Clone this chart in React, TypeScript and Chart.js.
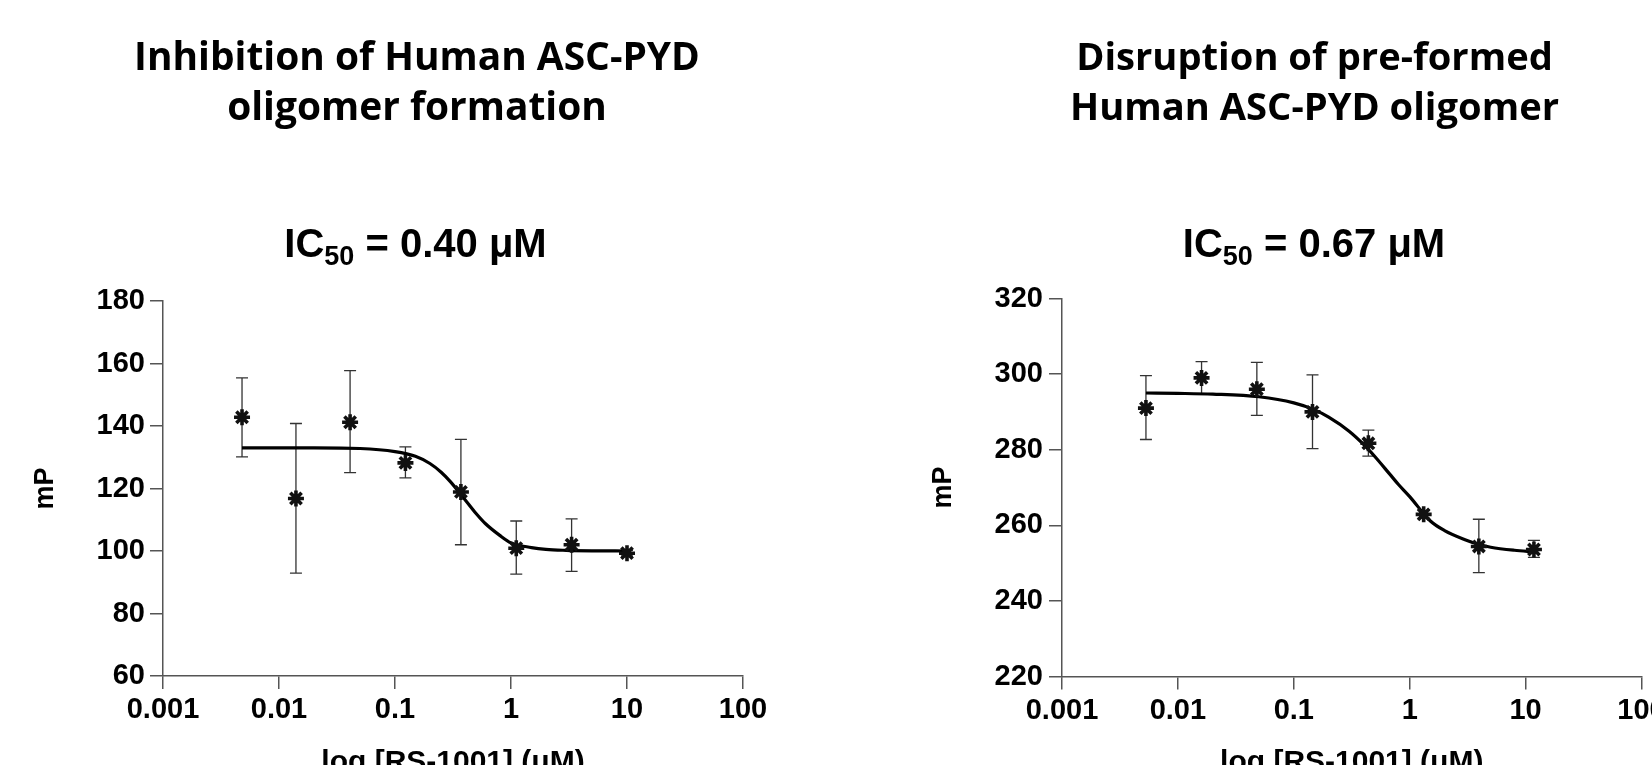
import React, { useEffect, useRef } from "react";
import { Chart, registerables } from "chart.js";

Chart.register(...registerables);

// ---------- shared axis data ----------
const xTickValues = [0.001, 0.01, 0.1, 1, 10, 100];
const xTickLabels = ["0.001", "0.01", "0.1", "1", "10", "100"];
const xAxisTitle = "log [RS-1001] (\u03BCM)";
const yAxisTitle = "mP";

// ---------- left panel data ----------
const leftTitleLines = ["Inhibition of Human ASC-PYD", "oligomer formation"];
const leftIC50 = "0.40";
const leftYTicks = [60, 80, 100, 120, 140, 160, 180];
const leftConc = [0.0048, 0.014, 0.041, 0.123, 0.37, 1.11, 3.33, 10];
const leftMean = [142.8, 116.8, 141.2, 128.2, 118.9, 100.9, 102.0, 99.3];
const leftErrHigh = [155.4, 140.8, 157.7, 133.3, 135.7, 109.6, 110.3, 100.2];
const leftErrLow = [130.1, 92.9, 125.1, 123.4, 102.0, 92.6, 93.5, 98.4];
const leftCurveX = [0.0048, 0.01, 0.02, 0.05, 0.1, 0.15, 0.2, 0.25, 0.3, 0.4, 0.5, 0.6, 0.8, 1, 1.5, 2, 3, 5, 10];
const leftCurveY = [133, 133, 133, 132.8, 131.8, 130.3, 128, 125.2, 122.2, 116.5, 112, 108.8, 105, 102.6, 101.1, 100.5, 100.2, 100.05, 100];

// ---------- right panel data ----------
const rightTitleLines = ["Disruption of pre-formed", "Human ASC-PYD oligomer"];
const rightIC50 = "0.67";
const rightYTicks = [220, 240, 260, 280, 300, 320];
const rightConc = [0.0053, 0.016, 0.048, 0.145, 0.44, 1.32, 3.95, 11.8];
const rightMean = [291.0, 299.0, 296.0, 290.0, 281.7, 262.9, 254.4, 253.6];
const rightErrHigh = [299.6, 303.3, 303.1, 299.8, 285.2, 263.9, 261.6, 256.0];
const rightErrLow = [282.7, 294.8, 289.1, 280.3, 278.3, 261.9, 247.5, 251.5];
const rightCurveX = [0.0053, 0.01, 0.02, 0.05, 0.1, 0.15, 0.2, 0.3, 0.4, 0.5, 0.67, 0.8, 1, 1.5, 2, 3, 4, 5, 8, 11.8];
const rightCurveY = [295, 294.9, 294.7, 294, 292.4, 290.6, 288.6, 284.9, 281.4, 278.2, 273.6, 270.8, 267.6, 261.2, 258.6, 256.2, 254.9, 254.2, 253.4, 253.0];

const SANS = '"Liberation Sans", Arial, Helvetica, sans-serif';
const TITLE_FONT = '"Open Sans", "Noto Sans", sans-serif';

type Panel = {
  canvasLeft: number;
  width: number;
  height: number;
  area: { left: number; right: number; top: number; bottom: number };
  titleLines: string[];
  titleCenter: number;
  titleBaselines: number[];
  titleTargetWidth: number;
  ic50: string;
  ic50Center: number;
  ic50Baseline: number;
  yTicks: number[];
  yMin: number;
  yMax: number;
  yTickPadding: number;
  yTitleOffset: number;
  conc: number[];
  mean: number[];
  errHigh: number[];
  errLow: number[];
  curveX: number[];
  curveY: number[];
};

const panels: Panel[] = [
  {
    canvasLeft: 0,
    width: 826,
    height: 800,
    area: { left: 163, right: 743, top: 301, bottom: 676 },
    titleLines: leftTitleLines,
    titleCenter: 417,
    titleBaselines: [70, 120],
    titleTargetWidth: 566,
    ic50: leftIC50,
    ic50Center: 415.5,
    ic50Baseline: 257,
    yTicks: leftYTicks,
    yMin: 60,
    yMax: 180,
    yTickPadding: 5,
    yTitleOffset: 29,
    conc: leftConc,
    mean: leftMean,
    errHigh: leftErrHigh,
    errLow: leftErrLow,
    curveX: leftCurveX,
    curveY: leftCurveY,
  },
  {
    canvasLeft: 826,
    width: 900,
    height: 800,
    area: { left: 236, right: 815.5, top: 298.5, bottom: 676.5 },
    titleLines: rightTitleLines,
    titleCenter: 488.5,
    titleBaselines: [70, 120],
    titleTargetWidth: 477,
    ic50: rightIC50,
    ic50Center: 488,
    ic50Baseline: 257,
    yTicks: rightYTicks,
    yMin: 220,
    yMax: 320,
    yTickPadding: 6,
    yTitleOffset: 101,
    conc: rightConc,
    mean: rightMean,
    errHigh: rightErrHigh,
    errLow: rightErrLow,
    curveX: rightCurveX,
    curveY: rightCurveY,
  },
];

function makeOverlay(p: Panel) {
  return {
    id: "overlay",
    beforeDatasetsDraw(chart: any) {
      const ctx = chart.ctx;
      const xs = chart.scales.x;
      const ys = chart.scales.y;
      ctx.save();
      ctx.strokeStyle = "#333";
      ctx.lineWidth = 1.3;
      const cap = 6;
      for (let i = 0; i < p.conc.length; i++) {
        const x = xs.getPixelForValue(p.conc[i]);
        const yt = ys.getPixelForValue(p.errHigh[i]);
        const yb = ys.getPixelForValue(p.errLow[i]);
        ctx.beginPath();
        ctx.moveTo(x, yt);
        ctx.lineTo(x, yb);
        ctx.moveTo(x - cap, yt);
        ctx.lineTo(x + cap, yt);
        ctx.moveTo(x - cap, yb);
        ctx.lineTo(x + cap, yb);
        ctx.stroke();
      }
      ctx.restore();
    },
    afterDraw(chart: any) {
      const ctx = chart.ctx;
      ctx.save();
      ctx.fillStyle = "#000";
      ctx.textBaseline = "alphabetic";
      ctx.textAlign = "left";
      // main title, fitted to the reference width
      ctx.font = `700 36px ${TITLE_FONT}`;
      const w0 = ctx.measureText(p.titleLines[0]).width;
      let size = (36 * p.titleTargetWidth) / w0;
      size = Math.max(30, Math.min(42, size));
      ctx.font = `700 ${size}px ${TITLE_FONT}`;
      ctx.textAlign = "center";
      p.titleLines.forEach((line, i) => {
        ctx.fillText(line, p.titleCenter, p.titleBaselines[i]);
      });
      // IC50 line with subscript
      ctx.textAlign = "left";
      const big = `bold 40px ${SANS}`;
      const small = `bold 27px ${SANS}`;
      const partA = "IC";
      const partB = "50";
      const partC = ` = ${p.ic50} \u03BCM`;
      ctx.font = big;
      const wa = ctx.measureText(partA).width;
      const wc = ctx.measureText(partC).width;
      ctx.font = small;
      const wb = ctx.measureText(partB).width;
      let x = p.ic50Center - (wa + wb + wc) / 2;
      ctx.font = big;
      ctx.fillText(partA, x, p.ic50Baseline);
      x += wa;
      ctx.font = small;
      ctx.fillText(partB, x, p.ic50Baseline + 8);
      x += wb;
      ctx.font = big;
      ctx.fillText(partC, x, p.ic50Baseline);
      ctx.restore();
    },
  };
}

function PanelChart({ p }: { p: Panel }) {
  const ref = useRef<HTMLCanvasElement | null>(null);
  useEffect(() => {
    if (!ref.current) return;
    const markers = p.conc.map((c, i) => ({ x: c, y: p.mean[i] }));
    const curve = p.curveX.map((c, i) => ({ x: c, y: p.curveY[i] }));
    const axisColor = "#555";
    const chart = new Chart(ref.current, {
      type: "scatter",
      data: {
        datasets: [
          {
            data: markers,
            pointStyle: "star",
            pointRadius: 8,
            pointBorderWidth: 3.6,
            pointBorderColor: "#111",
            pointBackgroundColor: "#111",
            showLine: false,
          } as any,
          {
            data: curve,
            showLine: true,
            borderColor: "#000",
            borderWidth: 3.2,
            pointRadius: 0,
            cubicInterpolationMode: "monotone",
            fill: false,
          } as any,
        ],
      },
      options: {
        responsive: false,
        animation: false,
        events: [],
        layout: {
          padding: {
            left: 0,
            top: p.area.top,
            right: p.width - p.area.right,
            bottom: 0,
          },
        },
        plugins: {
          legend: { display: false },
          title: { display: false },
          tooltip: { enabled: false },
        },
        scales: {
          x: {
            type: "logarithmic",
            min: 0.001,
            max: 100,
            afterBuildTicks: (s: any) => {
              s.ticks = xTickValues.map((v) => ({ value: v, major: true }));
            },
            afterFit: (s: any) => {
              s.height = p.height - p.area.bottom;
            },
            ticks: {
              autoSkip: false,
              maxRotation: 0,
              minRotation: 0,
              padding: 4,
              color: "#000",
              font: { family: SANS, size: 29, weight: "bold" },
              callback: (_v: any, i: number) => xTickLabels[i],
            },
            grid: {
              drawOnChartArea: false,
              drawTicks: true,
              tickLength: 13,
              color: axisColor,
              lineWidth: 1.5,
            },
            border: { display: true, color: axisColor, width: 1.5 },
            title: {
              display: true,
              text: xAxisTitle,
              color: "#000",
              font: { family: SANS, size: 30, weight: "bold" },
              padding: { top: 0, bottom: 19 },
            },
          },
          y: {
            type: "linear",
            min: p.yMin,
            max: p.yMax,
            afterBuildTicks: (s: any) => {
              s.ticks = p.yTicks.map((v) => ({ value: v }));
            },
            afterFit: (s: any) => {
              s.width = p.area.left;
            },
            ticks: {
              autoSkip: false,
              padding: p.yTickPadding,
              color: "#000",
              font: { family: SANS, size: 29, weight: "bold" },
              callback: (v: any) => String(v),
            },
            grid: {
              drawOnChartArea: false,
              drawTicks: true,
              tickLength: 13,
              color: axisColor,
              lineWidth: 1.5,
            },
            border: { display: true, color: axisColor, width: 1.5 },
            title: {
              display: true,
              text: yAxisTitle,
              color: "#000",
              font: { family: SANS, size: 27, weight: "bold" },
              padding: { top: p.yTitleOffset, bottom: 0 },
            },
          },
        },
      } as any,
      plugins: [makeOverlay(p)],
    });
    return () => chart.destroy();
  }, [p]);
  return (
    <div
      style={{
        position: "absolute",
        left: p.canvasLeft,
        top: 0,
        width: p.width,
        height: p.height,
      }}
    >
      <canvas ref={ref} width={p.width} height={p.height} style={{ display: "block" }} />
    </div>
  );
}

export default function App() {
  return (
    <div
      style={{
        position: "fixed",
        left: 0,
        top: 0,
        width: 1652,
        height: 765,
        overflow: "hidden",
        background: "#fff",
      }}
    >
      {panels.map((p, i) => (
        <PanelChart key={i} p={p} />
      ))}
    </div>
  );
}
